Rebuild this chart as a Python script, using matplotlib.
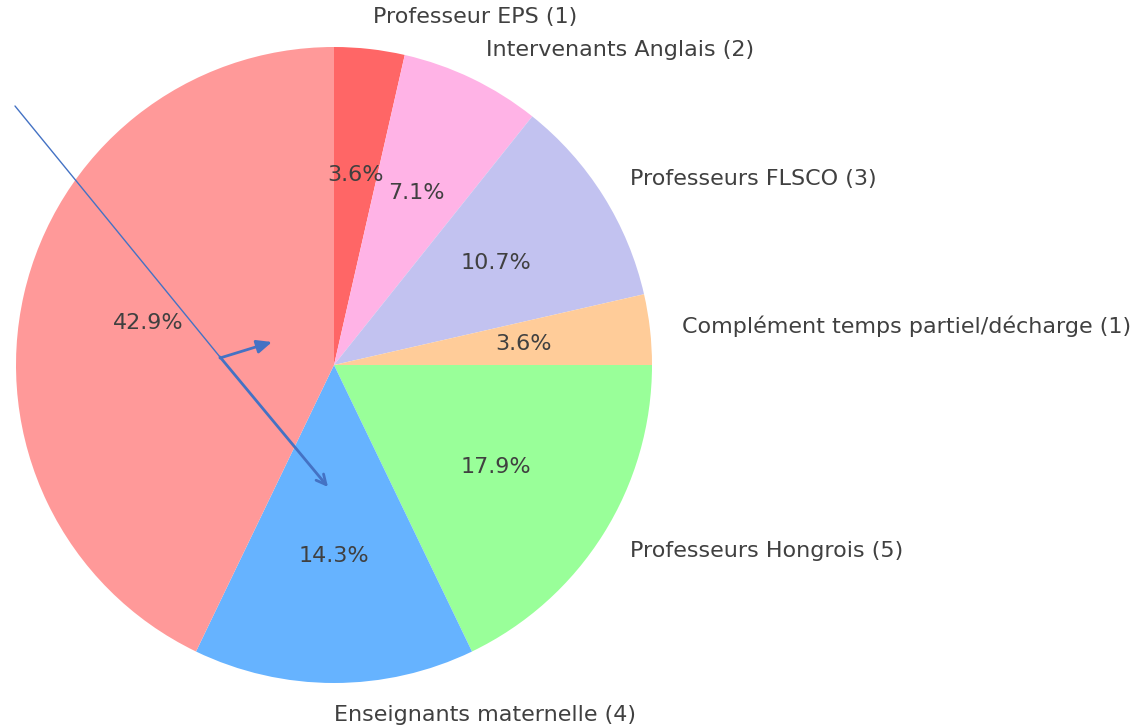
import matplotlib
matplotlib.use("Agg")
import matplotlib.pyplot as plt

labels = ["Professeur EPS (1)", "Intervenants Anglais (2)", "Professeurs FLSCO (3)",
          "Complément temps partiel/décharge (1)", "Professeurs Hongrois (5)",
          "Enseignants maternelle (4)", ""]
values = [1, 2, 3, 1, 5, 4, 12]
colors = ["#ff6666", "#ffb3e6", "#c2c2f0", "#ffcc99", "#99ff99", "#66b3ff", "#ff9999"]

W, H = 1143, 727
fig = plt.figure(figsize=(W / 100, H / 100), dpi=100)

R = 318.0
cx, cy = 334.0, H - 365.0
half = 1.25 * R
ax = fig.add_axes([(cx - half) / W, (cy - half) / H, 2 * half / W, 2 * half / H])
wedges, texts, autotexts = ax.pie(values, labels=labels, colors=colors, startangle=90,
                                  counterclock=False, autopct="%1.1f%%",
                                  textprops={"fontsize": 16, "color": "#404040"})
texts[5].set_ha("left")
ax.set_xlim(-1.25, 1.25)
ax.set_ylim(-1.25, 1.25)
ax.set_aspect("equal")
ax.axis("off")

def fp(x, y):
    return (x / W, (H - y) / H)

blue = "#4472C4"
# thin line segment
ax.annotate("", xy=fp(220, 357), xytext=fp(15, 106), xycoords="figure fraction",
            textcoords="figure fraction",
            arrowprops=dict(arrowstyle="-", color=blue, lw=1.0, shrinkA=0, shrinkB=0))
# thick arrow with open head
ax.annotate("", xy=fp(328, 487), xytext=fp(220, 357), xycoords="figure fraction",
            textcoords="figure fraction",
            arrowprops=dict(arrowstyle="->,head_length=0.7,head_width=0.35", color=blue, lw=2.0,
                            shrinkA=0, shrinkB=0))
# small filled arrow
ax.annotate("", xy=fp(272, 342), xytext=fp(220, 358), xycoords="figure fraction",
            textcoords="figure fraction",
            arrowprops=dict(arrowstyle="-|>,head_length=0.9,head_width=0.4", color=blue, lw=2.0,
                            shrinkA=0, shrinkB=0))

fig.savefig("out.png", dpi=100)
